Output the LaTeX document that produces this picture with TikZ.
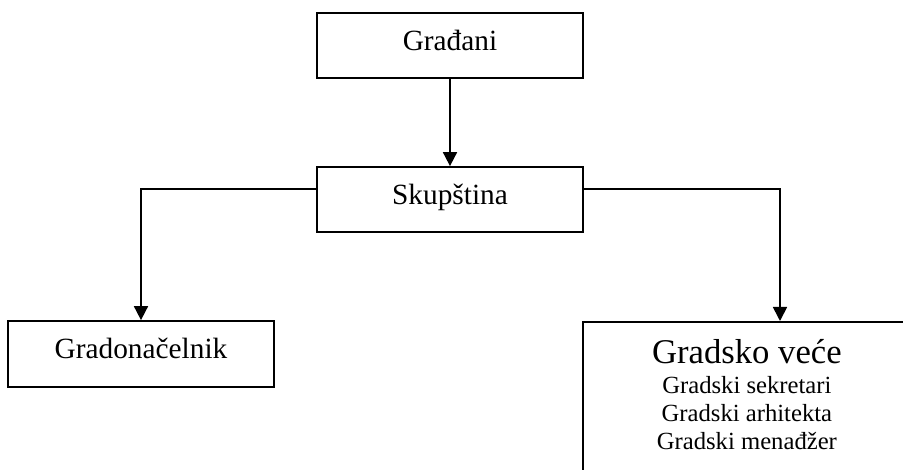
\documentclass[tikz,border=0pt]{standalone}
\usepackage{fontspec}
\setmainfont{Liberation Serif}
\usetikzlibrary{arrows.meta}
\tikzset{every picture/.style={line width=1.3pt}}

\begin{document}
\begin{tikzpicture}[x=0.75pt,y=0.75pt,yscale=-1,xscale=1,
  box/.style={draw, rectangle, inner sep=0pt, minimum width=199.5pt, minimum height=48.75pt, text height=15pt, text depth=8pt, font=\fontsize{22}{26}\selectfont},
  arr/.style={-{Triangle[length=10.5pt,width=10.5pt]}}]
%set diagram size 903 x 470
\clip (0,0) rectangle (903,470);

%Shape: Rectangle [id:gradjani]
\node [box] (gradjani) at (450,45.5) {Građani};
%Shape: Rectangle [id:skupstina]
\node [box] (skupstina) at (450,199.5) {Skupština};
%Shape: Rectangle [id:gradonacelnik]
\node [box, minimum height=49.5pt] (gradonacelnik) at (141,354) {Gradonačelnik};
%Shape: Rectangle [id:vece]
\node [draw, rectangle, inner sep=0pt, anchor=north west, minimum width=246pt, align=center, font=\fontsize{18.5}{21}\selectfont] (vece) at (582,321) {\rule{0pt}{31.5pt}{\fontsize{26}{30}\selectfont Gradsko veće}\\[1.5pt]
  Gradski sekretari\\
  Gradski arhitekta\\
  Gradski menađžer\rule[-40pt]{0pt}{40pt}};
\coordinate (veceIn) at (780,321);

%Straight Lines
\draw [arr] (gradjani) -- (skupstina);
%Straight Lines
\draw [arr] ([yshift=-8pt]skupstina.west) -| (gradonacelnik.north);
%Straight Lines
\draw [arr] ([yshift=-8pt]skupstina.east) -| (veceIn);

\end{tikzpicture}
\end{document}
